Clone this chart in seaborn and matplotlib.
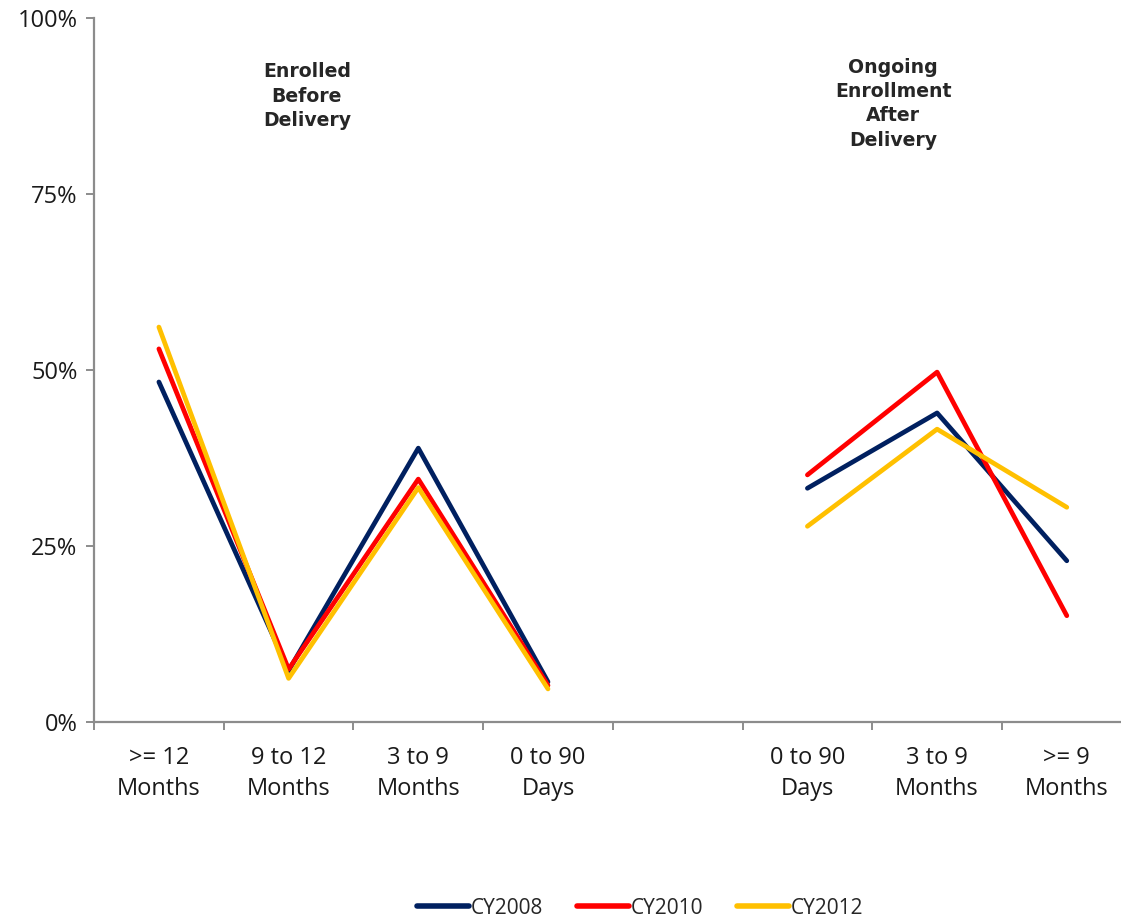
import numpy as np
import pandas as pd
import seaborn as sns
import matplotlib.pyplot as plt
from matplotlib.ticker import FuncFormatter

# Category slots along the x axis (an empty slot separates the two groups)
categories = [">= 12\nMonths", "9 to 12\nMonths", "3 to 9\nMonths", "0 to 90\nDays",
              "", "0 to 90\nDays", "3 to 9\nMonths", ">= 9\nMonths"]
before_slots = [0, 1, 2, 3]
after_slots = [5, 6, 7]

years = ["CY2008", "CY2010", "CY2012"]
before_2008 = [48.3, 7.3, 38.9, 5.7]
before_2010 = [53.0, 7.5, 34.5, 5.2]
before_2012 = [56.1, 6.2, 33.3, 4.7]
after_2008 = [33.2, 43.9, 22.9]
after_2010 = [35.1, 49.7, 15.1]
after_2012 = [27.8, 41.6, 30.5]

colors = {"CY2008": "#002060", "CY2010": "#FF0000", "CY2012": "#FFC000"}

rows = []
for yr, bvals, avals in zip(years,
                            [before_2008, before_2010, before_2012],
                            [after_2008, after_2010, after_2012]):
    for x, v in zip(before_slots, bvals):
        rows.append({"x": x, "value": v, "year": yr, "segment": yr + "-before"})
    for x, v in zip(after_slots, avals):
        rows.append({"x": x, "value": v, "year": yr, "segment": yr + "-after"})
df = pd.DataFrame(rows)

sns.set_theme(style="white")
plt.rcParams["font.family"] = ["Open Sans", "DejaVu Sans"]

fig = plt.figure(figsize=(11.21, 9.22), dpi=100)
ax = fig.add_axes([0.0839, 0.2169, 0.9256, 0.7636])

sns.lineplot(data=df, x="x", y="value", hue="year", units="segment",
             estimator=None, palette=colors, linewidth=3.4,
             solid_capstyle="round", ax=ax, legend=False, sort=False)

ax.set_xlim(-0.5, len(categories) - 0.5)
ax.set_ylim(0, 100)
ax.set_yticks([0, 25, 50, 75, 100])
ax.yaxis.set_major_formatter(FuncFormatter(lambda v, p: f"{v:.0f}%"))

# category labels centred in each slot, tick marks on slot boundaries
ax.set_xticks(np.arange(len(categories)))
ax.set_xticklabels(categories, fontsize=17, color="#1a1a1a")
for lbl in ax.get_xticklabels():
    lbl.set_linespacing(1.4)
ax.set_xticks(np.arange(-0.5, len(categories), 1.0), minor=True)
ax.tick_params(axis="x", which="major", bottom=False, length=0, pad=17)
ax.tick_params(axis="x", which="minor", bottom=True, length=6, width=1.4,
               color="#8c8c8c", direction="out")
ax.tick_params(axis="y", which="major", left=True, length=6, width=1.4, color="#8c8c8c",
               direction="out", labelsize=17, labelcolor="#1a1a1a", pad=6)
ax.set_xlabel("")
ax.set_ylabel("")

for side in ["top", "right"]:
    ax.spines[side].set_visible(False)
for side in ["left", "bottom"]:
    ax.spines[side].set_color("#8c8c8c")
    ax.spines[side].set_linewidth(1.6)

ax.text(1.14, 88.9, "Enrolled\nBefore\nDelivery", ha="center", va="center",
        fontsize=13.6, fontweight="bold", family="DejaVu Sans", linespacing=1.35)
ax.text(5.66, 87.8, "Ongoing\nEnrollment\nAfter\nDelivery", ha="center", va="center",
        fontsize=13.6, fontweight="bold", family="DejaVu Sans", linespacing=1.35)

handles = [plt.Line2D([], [], color=colors[y], linewidth=4, solid_capstyle="round") for y in years]
fig.legend(handles, years, loc="center", bbox_to_anchor=(0.571, 0.015), ncol=3,
           frameon=False, fontsize=15, handlelength=2.5, handletextpad=0.1,
           columnspacing=1.6)

fig.savefig("out.png", dpi=100)
